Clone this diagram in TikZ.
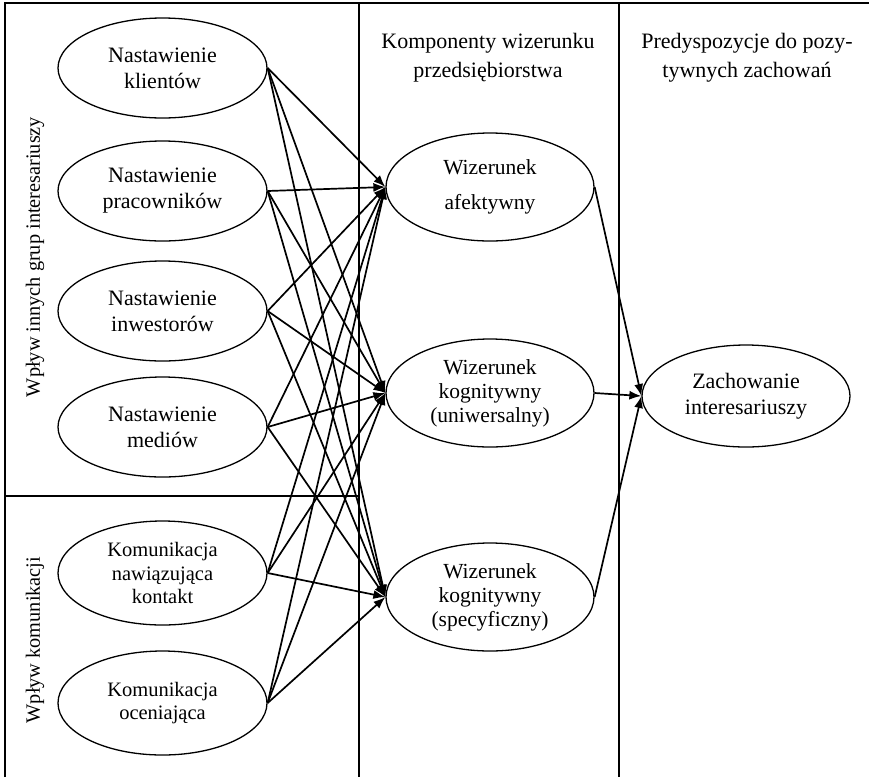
\documentclass[tikz,border=0pt]{standalone}
\usepackage{fontspec}
\setmainfont{Liberation Serif}
\usetikzlibrary{shapes.geometric,arrows.meta}
\begin{document}
\begin{tikzpicture}[x=1pt,y=-1pt,
  ell/.style={draw, line width=1.3pt, ellipse, minimum width=209pt, minimum height=100pt,
    inner sep=0pt, align=center, font=\fontsize{22}{26}\selectfont},
  ellc/.style={ell, minimum height=104pt, font=\fontsize{20.5}{23.5}\selectfont},
  ellm/.style={ell, minimum width=208pt, minimum height=108pt, font=\fontsize{21.5}{24}\selectfont},
  title/.style={align=center, font=\fontsize{22}{29}\selectfont, inner sep=0pt},
  side/.style={rotate=90, font=\fontsize{20.3}{24}\selectfont, inner sep=0pt},
  frame/.style={line width=1.3pt},
  conn/.style={line width=1.7pt, -{Latex[length=12pt,width=9pt]}}]
\useasboundingbox (0,0) rectangle (869,777);
% frame
\draw[frame] (5,777) -- (5,3) -- (869,3);
\draw[frame] (359,3) -- (359,777);
\draw[frame] (619,3) -- (619,777);
\draw[frame] (5,496) -- (359,496);
% side labels
\node[side] (s1) at (35,257) {Wpływ innych grup interesariuszy};
\node[side] (s2) at (35,640) {Wpływ komunikacji};
% titles
\node[title] (t1) at (488,58) {Komponenty wizerunku\\przedsiębiorstwa};
\node[title] (t2) at (747,58) {Predyspozycje do pozy-\\tywnych zachowań};
% left nodes
\node[ell] (n1) at (162.5,68) {Nastawienie\\klientów};
\node[ell] (n2) at (162.5,191) {Nastawienie\\pracowników};
\node[ell] (n3) at (162.5,311) {Nastawienie\\inwestorów};
\node[ell] (n4) at (162.5,427) {Nastawienie\\mediów};
\node[ellc] (n5) at (162.5,573) {Komunikacja\\nawiązująca\\kontakt};
\node[ellc] (n6) at (162.5,703) {Komunikacja\\oceniająca};
% middle nodes
\node[ellm] (w1) at (490,187) {Wizerunek\\[11pt]afektywny};
\node[ellm] (w2) at (490,393) {Wizerunek\\kognitywny\\(uniwersalny)};
\node[ellm] (w3) at (490,597) {Wizerunek\\kognitywny\\(specyficzny)};
% right node
\node[ell, minimum width=208pt, minimum height=102pt] (z) at (746,396) {Zachowanie\\interesariuszy};
% connectors
\foreach \s in {n1,n2,n3,n4,n5,n6}
  \foreach \t in {w1,w2,w3}
    \draw[conn] (\s.east) -- (\t.west);
\foreach \t in {w1,w2,w3}
  \draw[conn] (\t.east) -- (z.west);
\end{tikzpicture}
\end{document}
